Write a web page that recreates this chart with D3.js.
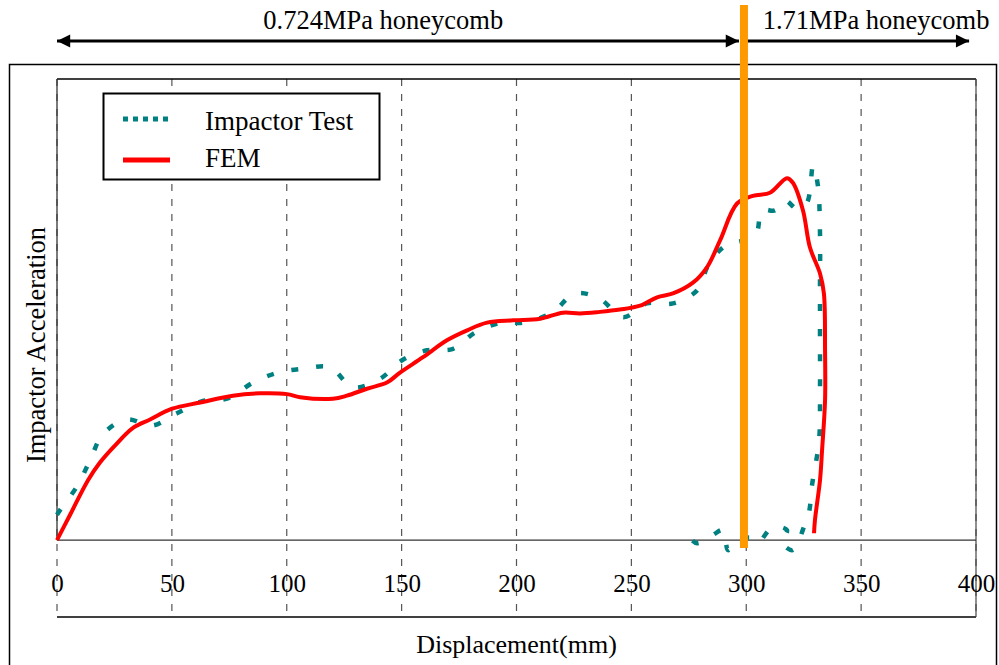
<!DOCTYPE html>
<html>
<head>
<meta charset="utf-8">
<script src="https://d3js.org/d3.v7.min.js"></script>
<style>
  body { margin: 0; background: #fff; }
  text { font-family: "Liberation Serif", "Times New Roman", serif; fill: #000; }
</style>
</head>
<body>
<div id="container"></div>
<script>
// Data (displacement in mm, acceleration in relative units)
var xTicks = [0, 50, 100, 150, 200, 250, 300, 350, 400];

var femX = [0, 5.7, 13.5, 18.7, 25.2, 33.1, 40.5, 50.1, 62.2, 76.6, 88.4, 100.1, 105.8, 120.1, 126.2,
    134.9, 143.6, 149.3, 159.3, 169.7, 178.5, 187.2, 198.5, 210.2, 220.2, 227.6, 236.3, 245.0, 253.8,
    261.2, 268.1, 276.8, 282.9, 288.6, 296.0, 302.9, 310.3, 317.7, 320.3, 324.7, 327.7, 332.1, 333.8,
    334.3, 334.3, 333.0, 332.1, 329.9, 329.5];
var femY = [0, 0.33, 0.78, 1.01, 1.23, 1.46, 1.57, 1.71, 1.79, 1.88, 1.91, 1.90, 1.86, 1.84, 1.88,
    1.97, 2.05, 2.18, 2.38, 2.60, 2.73, 2.83, 2.86, 2.88, 2.96, 2.95, 2.97, 3.00, 3.05,
    3.16, 3.21, 3.35, 3.55, 3.90, 4.38, 4.48, 4.52, 4.71, 4.65, 4.29, 3.81, 3.47, 3.21,
    2.47, 1.82, 1.17, 0.78, 0.26, 0.09];

var testX = [0, 1.3, 8.7, 14.4, 20.0, 30.5, 41.3, 52.2, 63.5, 74.0, 85.3, 96.2, 107.1, 118.8, 128.8,
    140.6, 150.2, 161.0, 172.4, 181.9, 193.7, 202.8, 215.5, 225.5, 236.3, 246.4, 256.8, 268.1, 278.6,
    283.4, 290.8, 303.8, 306.9, 312.5, 316.9, 322.1, 326.4, 329.1, 331.2, 332.1, 332.1, 332.1, 332.1,
    331.7, 328.6, 327.3, 324.7, 322.1, 319.9, 315.6, 317.7, 311.6, 305.1, 302.9, 296.0, 292.1, 289.9,
    285.1, 278.6, 273.8, 270.3];
var testY = [0.33, 0.39, 0.70, 1.04, 1.38, 1.57, 1.49, 1.65, 1.81, 1.84, 2.05, 2.18, 2.23, 2.25, 1.99,
    2.10, 2.34, 2.47, 2.49, 2.70, 2.83, 2.83, 2.96, 3.21, 3.14, 2.90, 3.08, 3.08, 3.25,
    3.57, 3.83, 3.96, 4.29, 4.29, 4.42, 4.31, 4.39, 4.87, 4.61, 3.99, 3.34, 2.66, 1.95,
    1.30, 0.71, 0.36, 0.14, -0.06, -0.13, -0.03, 0.13, 0.17, -0.03, 0.03, 0.00, -0.13, 0.13,
    0.06, -0.04, 0.06, 0.04];

var boundaryX = 299; // change of honeycomb stiffness
var regionLabels = ["0.724MPa honeycomb", "1.71MPa honeycomb"];
var regionEnds = [0, 299, 397];
var seriesNames = ["Impactor Test", "FEM"];
var col = {test: "#008080", fem: "#ff0000", boundary: "#ff9900"};

var W = 999, H = 665,
margin = {top: 79, right: 23, bottom: 48, left: 57};

var svg = d3.select("#container")
    .append("svg")
    .attr("width", W)
    .attr("height", H);

var x = d3.scaleLinear()
    .domain([0, 400])
    .range([margin.left, W - margin.right]);
var y = d3.scaleLinear()
    .domain([-1, 6])
    .range([H - margin.bottom, margin.top]);

// outer frame
svg.append("rect")
    .attr("x", 9.5).attr("y", 64.5)
    .attr("width", 987).attr("height", 620)
    .attr("fill", "none")
    .attr("stroke", "#000")
    .attr("stroke-width", 1.5);

// grid lines
svg.append("g").selectAll("line")
    .data(xTicks)
    .enter()
    .append("line")
        .attr("x1", d => x(d)).attr("x2", d => x(d))
        .attr("y1", y(6)).attr("y2", y(-1))
        .attr("stroke", "#555")
        .attr("stroke-width", 1.2)
        .attr("stroke-dasharray", "7,8");

// plot border
svg.append("line")
    .attr("x1", x(0)).attr("x2", x(400))
    .attr("y1", y(6)).attr("y2", y(6))
    .attr("stroke", "#000").attr("stroke-width", 1.5);
svg.append("line")
    .attr("x1", x(0)).attr("x2", x(400))
    .attr("y1", y(-1)).attr("y2", y(-1))
    .attr("stroke", "#000").attr("stroke-width", 1.5);
svg.append("line")
    .attr("x1", x(400)).attr("x2", x(400))
    .attr("y1", y(6)).attr("y2", y(-1))
    .attr("stroke", "#444").attr("stroke-width", 1.2);
// y axis (no labels)
svg.append("line")
    .attr("x1", x(0)).attr("x2", x(0))
    .attr("y1", y(6)).attr("y2", y(0))
    .attr("stroke", "#333").attr("stroke-width", 1.3);
// zero line
svg.append("line")
    .attr("x1", x(0)).attr("x2", x(400))
    .attr("y1", y(0)).attr("y2", y(0))
    .attr("stroke", "#333").attr("stroke-width", 1.3);

// x tick labels
var xAxis = svg.append("g")
    .attr("transform", "translate(0," + 592 + ")")
    .call(d3.axisBottom(x).tickValues(xTicks).tickSize(0).tickPadding(0));
xAxis.select(".domain").remove();
xAxis.selectAll("text")
    .attr("y", 0).attr("dy", 0)
    .style("font-family", "'Liberation Serif', 'Times New Roman', serif")
    .style("font-size", "25px")
    .attr("fill", "#000");

// axis labels
svg.append("text")
    .attr("x", (x(0) + x(400)) / 2)
    .attr("y", 653)
    .attr("text-anchor", "middle")
    .style("font-size", "26px")
    .text("Displacement(mm)");
svg.append("text")
    .attr("transform", "translate(45,345) rotate(-90)")
    .attr("text-anchor", "middle")
    .style("font-size", "26.5px")
    .text("Impactor Acceleration");

// curves
var line = d3.line()
    .x(d => x(d[0]))
    .y(d => y(d[1]))
    .curve(d3.curveCatmullRom.alpha(0.5));

svg.append("path")
    .datum(testX.map((v, i) => [v, testY[i]]))
    .attr("d", line)
    .attr("fill", "none")
    .attr("stroke", col.test)
    .attr("stroke-width", 4.5)
    .attr("stroke-dasharray", "7,18");

svg.append("path")
    .datum(femX.map((v, i) => [v, femY[i]]))
    .attr("d", line)
    .attr("fill", "none")
    .attr("stroke", col.fem)
    .attr("stroke-width", 4)
    .attr("stroke-linejoin", "round");

// legend
var legend = svg.append("g");
legend.append("rect")
    .attr("x", 103.5).attr("y", 93.5)
    .attr("width", 276).attr("height", 86)
    .attr("fill", "#fff")
    .attr("stroke", "#000")
    .attr("stroke-width", 2);
legend.append("line")
    .attr("x1", 123).attr("x2", 172)
    .attr("y1", 119).attr("y2", 119)
    .attr("stroke", col.test)
    .attr("stroke-width", 5)
    .attr("stroke-dasharray", "5,5");
legend.append("line")
    .attr("x1", 123).attr("x2", 170)
    .attr("y1", 160).attr("y2", 160)
    .attr("stroke", col.fem)
    .attr("stroke-width", 5);
legend.selectAll("text")
    .data(seriesNames)
    .enter()
    .append("text")
        .attr("x", 205)
        .attr("y", (d, i) => 130 + i * 37)
        .style("font-size", "27px")
        .text(d => d);

// region arrows on top
var defs = svg.append("defs");
defs.append("marker")
    .attr("id", "head")
    .attr("viewBox", "0 0 10 10")
    .attr("refX", 10).attr("refY", 5)
    .attr("markerWidth", 5).attr("markerHeight", 4.4)
    .attr("markerUnits", "strokeWidth")
    .attr("orient", "auto-start-reverse")
    .append("path")
        .attr("d", "M0,0 L10,5 L0,10 Z")
        .attr("fill", "#000");

svg.append("line")
    .attr("x1", x(regionEnds[0])).attr("x2", x(regionEnds[1]) - 5)
    .attr("y1", 41).attr("y2", 41)
    .attr("stroke", "#000").attr("stroke-width", 3)
    .attr("marker-start", "url(#head)")
    .attr("marker-end", "url(#head)");
svg.append("line")
    .attr("x1", x(regionEnds[1]) + 3).attr("x2", x(regionEnds[2]))
    .attr("y1", 41).attr("y2", 41)
    .attr("stroke", "#000").attr("stroke-width", 3)
    .attr("marker-end", "url(#head)");

svg.append("text")
    .attr("x", x(142))
    .attr("y", 29)
    .attr("text-anchor", "middle")
    .style("font-size", "26.5px")
    .text(regionLabels[0]);
svg.append("text")
    .attr("x", x(356.5))
    .attr("y", 29)
    .attr("text-anchor", "middle")
    .style("font-size", "26.5px")
    .text(regionLabels[1]);

// honeycomb boundary
svg.append("line")
    .attr("x1", x(boundaryX)).attr("x2", x(boundaryX))
    .attr("y1", 5).attr("y2", 548)
    .attr("stroke", col.boundary)
    .attr("stroke-width", 8);
</script>
</body>
</html>
